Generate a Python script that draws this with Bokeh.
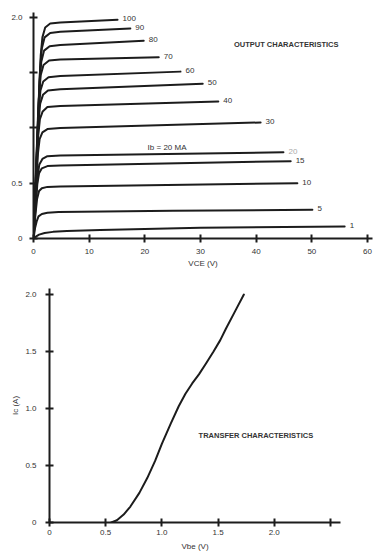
from bokeh.plotting import figure
from bokeh.models import Range1d, FixedTicker
from bokeh.core.properties import value
from bokeh.embed import file_html
from bokeh.resources import INLINE

FONT = "Liberation Sans"
INK = "#1c1c1c"

# ---------------- Output characteristics data (Vce in V, Ic in A) ----------------
ib_labels = ["100", "90", "80", "70", "60", "50", "40", "30", "20", "15", "10", "5", "1"]
vce_100 = [0, 0.8, 1.3, 1.6, 2.1, 3.0, 4.8, 15.1]
ic_100 = [0, 1.1, 1.66, 1.82, 1.91, 1.945, 1.955, 1.98]
vce_90 = [0, 0.75, 1.2, 1.5, 2.0, 3.0, 4.8, 17.4]
ic_90 = [0, 1.0, 1.55, 1.72, 1.82, 1.86, 1.87, 1.90]
vce_80 = [0, 0.7, 1.1, 1.4, 1.9, 2.9, 4.8, 19.8]
ic_80 = [0, 0.9, 1.42, 1.6, 1.70, 1.74, 1.75, 1.79]
vce_70 = [0, 0.65, 1.0, 1.3, 1.8, 2.8, 4.8, 22.5]
ic_70 = [0, 0.82, 1.3, 1.48, 1.57, 1.61, 1.62, 1.64]
vce_60 = [0, 0.6, 0.95, 1.25, 1.75, 2.7, 4.8, 26.4]
ic_60 = [0, 0.72, 1.17, 1.34, 1.42, 1.46, 1.47, 1.51]
vce_50 = [0, 0.55, 0.9, 1.2, 1.7, 2.6, 4.8, 30.4]
ic_50 = [0, 0.64, 1.06, 1.22, 1.30, 1.34, 1.35, 1.40]
vce_40 = [0, 0.5, 0.85, 1.15, 1.65, 2.5, 4.8, 33.2]
ic_40 = [0, 0.56, 0.93, 1.08, 1.15, 1.19, 1.20, 1.24]
vce_30 = [0, 0.45, 0.8, 1.1, 1.6, 2.5, 4.8, 40.8]
ic_30 = [0, 0.46, 0.77, 0.9, 0.96, 0.99, 1.00, 1.05]
vce_20 = [0, 0.4, 0.75, 1.05, 1.6, 2.5, 4.8, 44.9]
ic_20 = [0, 0.34, 0.57, 0.67, 0.72, 0.745, 0.75, 0.78]
vce_15 = [0, 0.4, 0.7, 1.0, 1.5, 2.5, 4.8, 46.2]
ic_15 = [0, 0.3, 0.5, 0.59, 0.635, 0.655, 0.66, 0.70]
vce_10 = [0, 0.35, 0.65, 1.0, 1.5, 2.5, 4.8, 47.4]
ic_10 = [0, 0.22, 0.36, 0.43, 0.455, 0.467, 0.47, 0.50]
vce_5 = [0, 0.3, 0.6, 0.9, 1.5, 2.5, 4.5, 25.0, 50.1]
ic_5 = [0, 0.1, 0.16, 0.2, 0.222, 0.233, 0.24, 0.25, 0.26]
vce_1 = [0, 0.5, 1.0, 2.0, 3.5, 6.0, 12.0, 30.0, 55.9]
ic_1 = [0, 0.02, 0.035, 0.05, 0.06, 0.068, 0.078, 0.098, 0.108]

vce_curves = [vce_100, vce_90, vce_80, vce_70, vce_60, vce_50, vce_40,
              vce_30, vce_20, vce_15, vce_10, vce_5, vce_1]
ic_curves = [ic_100, ic_90, ic_80, ic_70, ic_60, ic_50, ic_40,
             ic_30, ic_20, ic_15, ic_10, ic_5, ic_1]

out_xticks = [0, 10, 20, 30, 40, 50, 60]
out_yticks = [0, 0.5, 1.0, 1.5, 2.0]
out_ylabels = {0: "0", 0.5: "0.5", 1: "", 1.5: "", 2: "2.0"}

# ---------------- Transfer characteristics data (Vbe in V, Ic in A) ----------------
vbe = [0.55, 0.60, 0.66, 0.72, 0.80, 0.87, 0.94, 1.0, 1.08, 1.15, 1.21, 1.27, 1.33,
       1.39, 1.46, 1.52, 1.57, 1.65, 1.73]
ic_t = [0.0, 0.02, 0.07, 0.14, 0.26, 0.39, 0.54, 0.69, 0.87, 1.02, 1.13, 1.22, 1.30,
        1.39, 1.50, 1.60, 1.70, 1.85, 2.0]
tr_xticks = [0, 0.5, 1.0, 1.5, 2.0, 2.5]
tr_xlabels = {0: "0", 0.5: "0.5", 1: "1.0", 1.5: "1.5", 2: "2.0", 2.5: ""}
tr_yticks = [0, 0.5, 1.0, 1.5, 2.0]
tr_ylabels = {0: "0", 0.5: "0.5", 1: "1.0", 1.5: "1.5", 2: "2.0"}


def style_axis(ax, standoff):
    ax.axis_line_color = INK
    ax.axis_line_width = 2
    ax.major_tick_line_color = INK
    ax.major_tick_line_width = 2
    ax.major_tick_in = 4
    ax.major_tick_out = 4
    ax.minor_tick_line_color = None
    ax.major_label_text_font = FONT
    ax.major_label_text_font_size = "8px"
    ax.major_label_text_color = "#333333"
    ax.major_label_standoff = standoff
    ax.axis_label_text_font = FONT
    ax.axis_label_text_font_size = "8px"
    ax.axis_label_text_font_style = "normal"
    ax.axis_label_text_color = "#333333"
    ax.axis_label_standoff = 2


# ---------------- Top figure ----------------
p1 = figure(width=385, height=270, x_range=Range1d(0, 60.9), y_range=Range1d(0, 2.045),
            output_backend="svg", toolbar_location=None,
            min_border_left=33, min_border_right=13, min_border_top=12, min_border_bottom=30)
p1.grid.visible = False
p1.outline_line_color = None
p1.background_fill_color = "white"

for xs, ys in zip(vce_curves, ic_curves):
    p1.line(xs, ys, line_color=INK, line_width=2, line_join="round", line_cap="round")

end_x = [xs[-1] for xs in vce_curves]
end_y = [ys[-1] for ys in ic_curves]
label_colors = ["#333333"] * len(ib_labels)
label_colors[8] = "#aaaaaa"
p1.text(x=end_x, y=end_y, text=ib_labels, x_offset=5, y_offset=-1,
        text_baseline="middle", text_align="left", text_font=value(FONT),
        text_font_size="8px", text_color=label_colors)

p1.text(x=[20.5], y=[0.825], text=["Ib = 20 MA"], text_baseline="middle", text_align="left",
        text_font=value(FONT), text_font_size="8px", text_color="#333333")
p1.text(x=[45.4], y=[1.758], text=["OUTPUT CHARACTERISTICS"], text_baseline="middle",
        text_align="center", text_font=value(FONT), text_font_size="7.5px",
        text_font_style="bold", text_color="#333333")

p1.xaxis.ticker = FixedTicker(ticks=out_xticks)
p1.yaxis.ticker = FixedTicker(ticks=out_yticks)
p1.yaxis.major_label_overrides = out_ylabels
p1.xaxis.axis_label = "VCE (V)"
style_axis(p1.xaxis[0], 6)
style_axis(p1.yaxis[0], 7)

# ---------------- Bottom figure ----------------
p2 = figure(width=385, height=284, x_range=Range1d(0, 2.59), y_range=Range1d(0, 2.053),
            output_backend="svg", toolbar_location=None,
            min_border_left=49, min_border_right=45, min_border_top=18, min_border_bottom=32)
p2.grid.visible = False
p2.outline_line_color = None
p2.background_fill_color = "white"

p2.line(vbe, ic_t, line_color=INK, line_width=2, line_join="round", line_cap="round")
p2.text(x=[1.837], y=[0.763], text=["TRANSFER CHARACTERISTICS"], text_baseline="middle",
        text_align="center", text_font=value(FONT), text_font_size="7.5px",
        text_font_style="bold", text_color="#333333")

p2.xaxis.ticker = FixedTicker(ticks=tr_xticks)
p2.xaxis.major_label_overrides = tr_xlabels
p2.yaxis.ticker = FixedTicker(ticks=tr_yticks)
p2.yaxis.major_label_overrides = tr_ylabels
p2.xaxis.axis_label = "Vbe (V)"
p2.yaxis.axis_label = "Ic (A)"
style_axis(p2.xaxis[0], 3)
style_axis(p2.yaxis[0], 9)
p2.xaxis.axis_label_standoff = 4

open("out.html", "w").write(file_html([p1, p2], INLINE))
